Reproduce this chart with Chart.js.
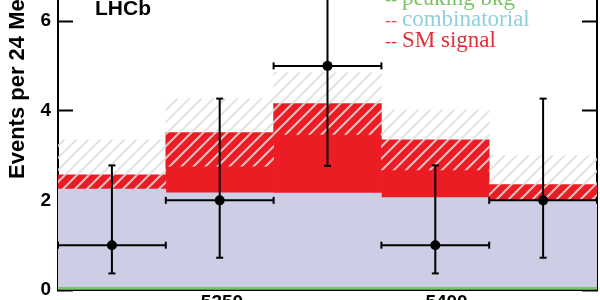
<!DOCTYPE html>
<html>
<head>
<meta charset="utf-8">
<script src="https://cdn.jsdelivr.net/npm/chart.js@4"></script>
<style>
  html, body { margin: 0; padding: 0; background: #fff; overflow: hidden; }
  #wrap { position: absolute; left: 0; top: 0; width: 600px; height: 300px; }
</style>
</head>
<body>
<div id="wrap"><canvas id="massChart" width="600" height="300"></canvas></div>
<script>
// bins (MeV), 24 MeV wide
const binCenters = [5325.5, 5349.5, 5373.5, 5397.5, 5421.5];
const binWidth = 24;
// expected yields per bin
const peakingBkg = [0.06, 0.06, 0.06, 0.06, 0.06];
const combinatorial = [2.19, 2.11, 2.10, 2.00, 1.94];
const smSignal = [0.32, 1.34, 2.00, 1.29, 0.35];
const totalErr = [0.78, 0.75, 0.69, 0.67, 0.65];
// observed candidates and their error bars
const observed = [1, 2, 5, 1, 2];
const obsLow = [0.37, 0.72, 2.77, 0.37, 0.72];
const obsHigh = [2.78, 4.27, 7.60, 2.78, 4.27];
// axes
const xMajorTicks = [5350, 5400];
const xMinorTicks = [5320, 5330, 5340, 5350, 5360, 5370, 5380, 5390, 5400, 5410, 5420, 5430];
const yTicks = [0, 2, 4, 6];
const legendItems = [
    { text: "peaking bkg", dash: "#7cc46a", color: "#7cc46a" },
    { text: "combinatorial", dash: "#e05060", color: "#8fd0dc" },
    { text: "SM signal", dash: "#e0303a", color: "#e0303a" }
];

document.addEventListener("DOMContentLoaded", function () {
    const X_MIN = 5313.5, X_MAX = 5433.5;
    const Y_MIN = 0, Y_MAX = 6.47;

    function makeHatch() {
        const s = 12;
        const c = document.createElement("canvas");
        c.width = s;
        c.height = s;
        const g = c.getContext("2d");
        g.strokeStyle = "rgba(222,222,222,0.85)";
        g.lineWidth = 2;
        g.beginPath();
        g.moveTo(0, s); g.lineTo(s, 0);
        g.moveTo(-2, 2); g.lineTo(2, -2);
        g.moveTo(s - 2, s + 2); g.lineTo(s + 2, s - 2);
        g.stroke();
        return g.createPattern(c, "repeat");
    }

    // stacked tops
    const lavTop = binCenters.map((c, i) => peakingBkg[i] + combinatorial[i]);
    const total = binCenters.map((c, i) => lavTop[i] + smSignal[i]);

    const greenBars = binCenters.map((c, i) => ({ x: c, y: [0, peakingBkg[i]] }));
    const lavBars = binCenters.map((c, i) => ({ x: c, y: [peakingBkg[i], lavTop[i]] }));
    const redBars = binCenters.map((c, i) => ({ x: c, y: [lavTop[i], total[i]] }));
    const hatchBars = binCenters.map((c, i) => ({ x: c, y: [total[i] - totalErr[i], total[i] + totalErr[i]] }));

    const vErr = [], hErr = [];
    binCenters.forEach((c, i) => {
        vErr.push({ x: c, y: obsLow[i] }, { x: c, y: obsHigh[i] }, { x: c, y: null });
        hErr.push({ x: c - binWidth / 2, y: observed[i] }, { x: c + binWidth / 2, y: observed[i] }, { x: c, y: null });
    });
    const points = binCenters.map((c, i) => ({ x: c, y: observed[i] }));

    const textPlugin = {
        id: "lhcbText",
        afterDraw(chart) {
            const ctx = chart.ctx;
            ctx.save();
            ctx.fillStyle = "#000";
            ctx.font = "bold 21px 'Liberation Sans', Arial, sans-serif";
            ctx.textBaseline = "alphabetic";
            ctx.textAlign = "left";
            ctx.fillText("LHCb", 95, 15);

            legendItems.forEach((item, i) => {
                const y = 5 + i * 21;
                ctx.font = "18px 'Liberation Serif', 'Times New Roman', serif";
                ctx.fillStyle = item.dash;
                ctx.fillText("--", 385, y);
                ctx.font = "23px 'Liberation Serif', 'Times New Roman', serif";
                ctx.fillStyle = item.color;
                ctx.fillText(item.text, 402, y);
            });

            ctx.fillStyle = "#000";
            ctx.font = "bold 22px 'Liberation Sans', Arial, sans-serif";
            ctx.translate(24, 179);
            ctx.rotate(-Math.PI / 2);
            ctx.fillText("Events per 24 MeV/c\u00B2", 0, 0);
            ctx.restore();
        }
    };

    const tickFont = { family: "'Liberation Sans', Arial, sans-serif", size: 19, weight: "bold" };

    const ctx = document.getElementById("massChart").getContext("2d");
    new Chart(ctx, {
        type: "bar",
        data: {
            datasets: [
                { label: "SM signal", data: redBars, backgroundColor: "#ec1c24", borderWidth: 0, order: 6 },
                { label: "uncertainty", data: hatchBars, backgroundColor: makeHatch(), borderWidth: 0, order: 5 },
                { label: "combinatorial", data: lavBars, backgroundColor: "#cdcde6", borderWidth: 0, order: 4 },
                { label: "peaking bkg", data: greenBars, backgroundColor: "#7cc46a", borderWidth: 0, order: 3 },
                {
                    type: "line", label: "vErr", data: vErr,
                    borderColor: "#000", borderWidth: 2, spanGaps: false, fill: false,
                    pointStyle: "line", pointRadius: 3.5, pointBorderColor: "#000", pointBorderWidth: 2,
                    order: 2
                },
                {
                    type: "line", label: "hErr", data: hErr,
                    borderColor: "#000", borderWidth: 2, spanGaps: false, fill: false,
                    pointStyle: "line", pointRotation: 90, pointRadius: 3.5, pointBorderColor: "#000", pointBorderWidth: 2,
                    order: 2
                },
                {
                    type: "line", label: "data", data: points, showLine: false,
                    pointRadius: 5, pointBackgroundColor: "#000", pointBorderColor: "#000", pointBorderWidth: 0,
                    order: 1
                }
            ]
        },
        options: {
            responsive: false,
            animation: false,
            devicePixelRatio: 1,
            grouped: false,
            barPercentage: 1,
            categoryPercentage: 1,
            layout: { padding: 0, autoPadding: false },
            plugins: { legend: { display: false }, tooltip: { enabled: false } },
            scales: {
                x: {
                    type: "linear", position: "bottom", min: X_MIN, max: X_MAX,
                    offset: false,
                    afterBuildTicks: (s) => { s.ticks = xMajorTicks.map(v => ({ value: v })); },
                    afterFit: (s) => { s.height = 10; s.paddingLeft = 0; s.paddingRight = 0; },
                    ticks: { color: "#000", font: tickFont, padding: 11, maxRotation: 0, callback: (v) => String(v) },
                    grid: { offset: false, drawOnChartArea: false, drawTicks: true, tickLength: -10, tickColor: "#000", tickWidth: 2 },
                    border: { display: true, color: "#000", width: 2 }
                },
                x2: {
                    type: "linear", position: { y: 0 }, min: X_MIN, max: X_MAX,
                    offset: false,
                    afterBuildTicks: (s) => { s.ticks = xMinorTicks.map(v => ({ value: v })); },
                    afterFit: (s) => { s.paddingLeft = 0; s.paddingRight = 0; s.paddingTop = 0; s.paddingBottom = 0; },
                    ticks: { display: false },
                    grid: { drawOnChartArea: false, drawTicks: true, tickLength: -5, tickColor: "#000", tickWidth: 2 },
                    border: { display: false }
                },
                y: {
                    type: "linear", position: "left", min: Y_MIN, max: Y_MAX,
                    afterBuildTicks: (s) => { s.ticks = yTicks.map(v => ({ value: v })); },
                    afterFit: (s) => { s.width = 58; s.paddingTop = 0; s.paddingBottom = 0; },
                    ticks: { color: "#000", font: tickFont, padding: 22, callback: (v) => String(v) },
                    grid: { drawOnChartArea: false, drawTicks: true, tickLength: -15, tickColor: "#000", tickWidth: 2 },
                    border: { display: true, color: "#000", width: 2 }
                },
                y2: {
                    type: "linear", position: "right", min: Y_MIN, max: Y_MAX,
                    afterBuildTicks: (s) => { s.ticks = yTicks.map(v => ({ value: v })); },
                    afterFit: (s) => { s.width = 3; s.paddingTop = 0; s.paddingBottom = 0; },
                    ticks: { display: false },
                    grid: { drawOnChartArea: false, drawTicks: true, tickLength: -15, tickColor: "#000", tickWidth: 2 },
                    border: { display: true, color: "#000", width: 2 }
                }
            }
        },
        plugins: [textPlugin]
    });
});
</script>
</body>
</html>
